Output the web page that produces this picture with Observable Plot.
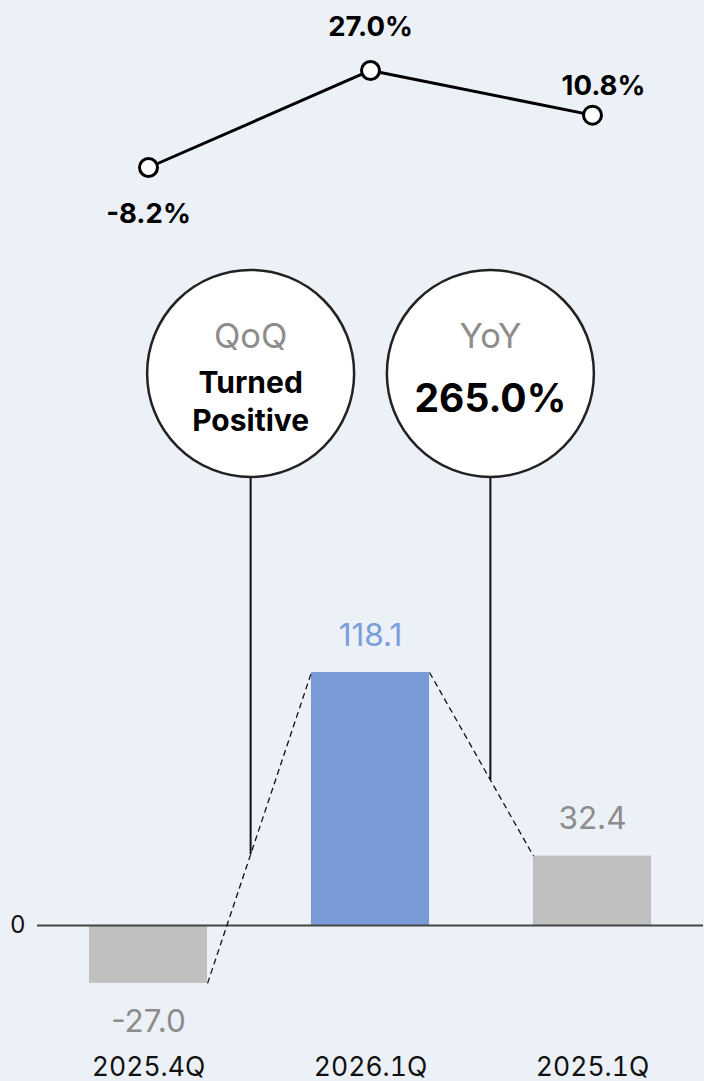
<!DOCTYPE html>
<html>
<head>
<meta charset="utf-8">
<script src="https://cdn.jsdelivr.net/npm/d3@7"></script>
<script src="https://cdn.jsdelivr.net/npm/@observablehq/plot@0.6"></script>
<style>
  html, body { margin: 0; padding: 0; background: #ECF0F7; }
  #chart { width: 704px; height: 1081px; overflow: hidden; }
  #chart svg { display: block; }
</style>
</head>
<body>
<div id="chart"></div>
<script>
// ---- data ----
const categories = ["2025.4Q", "2026.1Q", "2025.1Q"];
const values = [-27.0, 118.1, 32.4];
const marginRates = [-8.2, 27.0, 10.8];
const highlight = "2026.1Q";
const annotLabels = ["QoQ", "YoY"];
const annotTexts = ["Turned\nPositive", "265.0%"];
const annotPairs = [[0, 1], [1, 2]];

// ---- layout constants ----
const W = 704;
const HW = 0.266;            // half bar width in index units
const annotX = [0.46, 1.54]; // bubble x in index units
const bubbleY = 257.7;       // bubble centre in value units
const FONT = "Inter, 'Noto Sans', sans-serif";

const bars = categories.map((c, i) => ({i, cat: c, value: values[i]}));
const rates = categories.map((c, i) => ({i, cat: c, v: marginRates[i]}));
const links = annotPairs.map(([a, b]) => ({
  x1: a + HW, y1: values[a], x2: b - HW, y2: values[b]
}));
const annots = annotLabels.map((l, k) => {
  const L = links[k];
  const t = (annotX[k] - L.x1) / (L.x2 - L.x1);
  return {label: l, text: annotTexts[k], x: annotX[k], yLink: L.y1 + t * (L.y2 - L.y1)};
});

const xScale = {domain: [-0.5, 2.5], axis: null};
const pct = d => d.v.toFixed(1) + "%";

// ---- top: line chart ----
const topPlot = Plot.plot({
  width: W, height: 240,
  marginLeft: 37, marginRight: 1, marginTop: 0, marginBottom: 0,
  x: xScale,
  y: {domain: [-34.69, 52.40], axis: null},
  style: {background: "transparent", fontFamily: FONT, color: "#111"},
  marks: [
    Plot.line(rates, {x: "i", y: "v", stroke: "#000", strokeWidth: 3}),
    Plot.dot(rates, {x: "i", y: "v", r: 9, fill: "white", stroke: "#000", strokeWidth: 3}),
    Plot.text(rates, {filter: d => d.i === 0, x: "i", y: "v", text: pct, dy: 47, fontSize: 27.5, fontWeight: 700, fill: "#000"}),
    Plot.text(rates, {filter: d => d.i === 1, x: "i", y: "v", text: pct, dy: -43, fontSize: 27.5, fontWeight: 700, fill: "#000"}),
    Plot.text(rates, {filter: d => d.i === 2, x: "i", y: "v", text: pct, dy: -29, dx: 11, fontSize: 27.5, fontWeight: 700, fill: "#000"})
  ]
});

// ---- bottom: bars + bubbles ----
const botPlot = Plot.plot({
  width: W, height: 841,
  marginLeft: 37, marginRight: 1, marginTop: 0, marginBottom: 50,
  x: xScale,
  y: {domain: [-49.48, 319.75], axis: null},
  style: {background: "transparent", fontFamily: FONT, color: "#111"},
  marks: [
    Plot.rectY(bars, {filter: d => d.cat !== highlight, x1: d => d.i - HW, x2: d => d.i + HW, y1: 0, y2: "value", fill: "#BFBFBF"}),
    Plot.rectY(bars, {filter: d => d.cat === highlight, x1: d => d.i - HW, x2: d => d.i + HW, y1: 0, y2: "value", fill: "#789AD7"}),
    Plot.ruleY([0], {stroke: "#444", strokeWidth: 2}),
    Plot.link(links, {x1: "x1", y1: "y1", x2: "x2", y2: "y2", stroke: "#111", strokeWidth: 1.3, strokeDasharray: "6,4"}),
    Plot.ruleX(annots, {x: "x", y1: "yLink", y2: bubbleY, stroke: "#111", strokeWidth: 2}),
    Plot.dot(annots, {x: "x", y: bubbleY, r: 103.5, fill: "white", stroke: "#222", strokeWidth: 2.5}),
    Plot.text(annots, {x: "x", y: bubbleY, text: "label", dy: -36, fontSize: 34.5, fill: "#8C8C8C"}),
    Plot.text(annots, {filter: d => d.label === "QoQ", x: "x", y: bubbleY, text: "text", dy: 26.5, fontSize: 30, fontWeight: 700, lineHeight: 1.25, fill: "#000"}),
    Plot.text(annots, {filter: d => d.label === "YoY", x: "x", y: bubbleY, text: "text", dy: 26, fontSize: 39, fontWeight: 700, fill: "#000"}),
    Plot.text(bars, {filter: d => d.value >= 0 && d.cat === highlight, x: "i", y: "value", text: d => d.value.toFixed(1), dy: -37, fontSize: 31.5, fill: "#7B9DDB"}),
    Plot.text(bars, {filter: d => d.value >= 0 && d.cat !== highlight, x: "i", y: "value", text: d => d.value.toFixed(1), dy: -37, fontSize: 31.5, fill: "#8C8C8C"}),
    Plot.text(bars, {filter: d => d.value < 0, x: "i", y: "value", text: d => d.value.toFixed(1), dy: 39, fontSize: 31.5, fill: "#8C8C8C"}),
    Plot.axisX({ticks: [0, 1, 2], tickFormat: i => categories[i], tickSize: 0, tickPadding: 26, fontSize: 26.5, fill: "#111"}),
    Plot.axisY({ticks: [0], tickFormat: d => String(d), tickSize: 0, tickPadding: 12, fontSize: 24, fill: "#111"})
  ]
});

const el = document.getElementById("chart");
el.appendChild(topPlot);
el.appendChild(botPlot);
</script>
</body>
</html>
